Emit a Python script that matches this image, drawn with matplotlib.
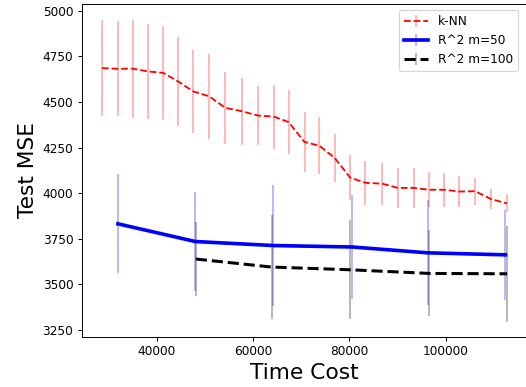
import numpy as np
import matplotlib
matplotlib.use('Agg')
import matplotlib.pyplot as plt

# k-NN runs
knnTime = [28660, 31980, 35090, 38135, 41390, 44500, 47610, 50920, 54240,
           57760, 60990, 64310, 67360, 70670, 73780, 76950, 80150, 83320,
           86840, 90010, 93330, 96440, 99690, 102740, 106050, 109430, 112680]
knnMse = [4686, 4682, 4683, 4668, 4660, 4612, 4558, 4531, 4468, 4449, 4426,
          4420, 4390, 4281, 4260, 4193, 4085, 4057, 4052, 4029, 4029, 4019,
          4019, 4009, 4011, 3967, 3944]
knnErr = [265, 261, 268, 260, 258, 242, 228, 233, 199, 184, 164, 175, 177,
          165, 157, 132, 125, 121, 115, 109, 109, 97, 92, 85, 74, 56, 49]

# R^2 with m=50
m50Time = [31980, 48020, 64190, 80560, 96230, 112330]
m50Mse = [3832, 3735, 3713, 3705, 3673, 3662]
m50Err = [272, 274, 332, 283, 288, 245]

# R^2 with m=100
m100Time = [48140, 63830, 80210, 96580, 112680]
m100Mse = [3639, 3595, 3580, 3560, 3558]
m100Err = [202, 284, 272, 236, 263]

dpi = 87
fig = plt.figure(figsize=(526 / dpi, 387 / dpi), dpi=dpi)
ax = fig.add_axes([81.7 / 526, 1 - 336.7 / 387, (527.3 - 81.7) / 526, (336.7 - 4.3) / 387])

ax.errorbar(knnTime, knnMse, yerr=knnErr, fmt='r--', ecolor=(1, 0, 0, 0.3),
            linewidth=1.5, elinewidth=1.5, label='k-NN')
ax.errorbar(m50Time, m50Mse, yerr=m50Err, fmt='b-', ecolor=(0, 0, 1, 0.3),
            linewidth=3, elinewidth=1.5, label='R^2 m=50')
ax.errorbar(m100Time, m100Mse, yerr=m100Err, fmt='k--', ecolor=(0, 0, 0, 0.3),
            linewidth=2.5, elinewidth=1.5, label='R^2 m=100')

ax.set_xlim(24460, 116880)
ax.set_ylim(3213, 5036)
ax.set_yticks([3250, 3500, 3750, 4000, 4250, 4500, 4750, 5000])
ax.set_xticks([40000, 60000, 80000, 100000])
ax.set_xlabel('Time Cost', fontsize=18)
ax.set_ylabel('Test MSE', fontsize=18)
ax.legend(loc='upper right', bbox_to_anchor=(517.7 / 526, 1 - 10 / 387),
          bbox_transform=fig.transFigure, borderaxespad=0)

plt.savefig('out.png', dpi=dpi)
